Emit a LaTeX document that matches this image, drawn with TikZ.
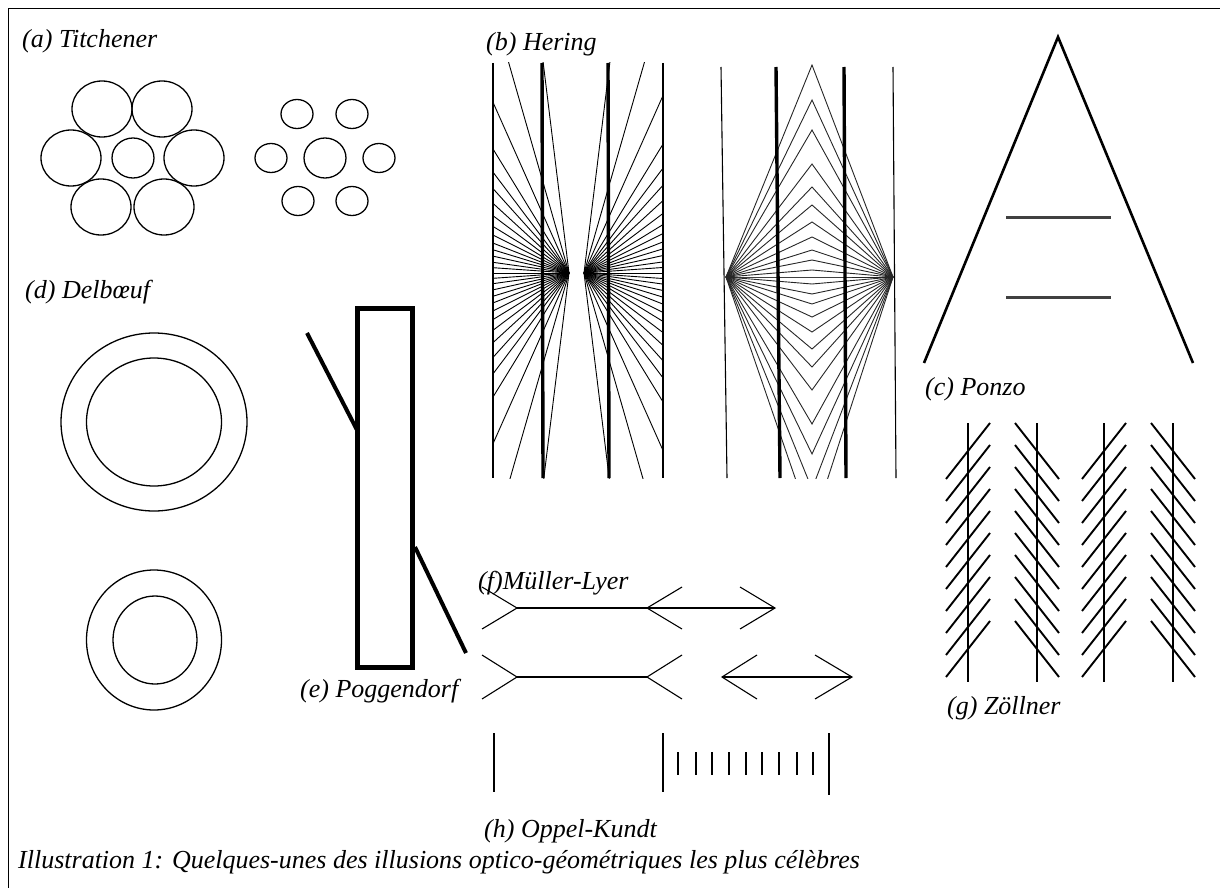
\documentclass[tikz,border=0pt]{standalone}
\usepackage{fontspec}
\newfontfamily\labfont{Liberation Serif}
\begin{document}
\begin{tikzpicture}[x=1pt,y=-1pt,
  lab/.style={anchor=base west,inner sep=0pt,font=\labfont\itshape\fontsize{26}{30}\selectfont},
  ring/.style={draw,line width=1.3pt},
  thinv/.style={line width=1.1pt},
  thickv/.style={line width=3.4pt},
  ray/.style={line width=0.9pt},
  chev/.style={line width=0.9pt,black!85},
  leg/.style={line width=2.6pt},
  bar/.style={line width=3pt,black!75},
  hatch/.style={line width=1.9pt},
  fin/.style={line width=1.1pt},
  tick/.style={line width=1.6pt},
  heavy/.style={line width=5pt},
  oblique/.style={line width=4pt}]
\useasboundingbox (0,0) rectangle (1220,888);

% frame
\draw[line width=1pt] (1220,9) -- (8,9) -- (8,888);

% (a) Titchener
\node[lab] (la) at (22,48) {(a) Titchener};
\draw[ring] (133,158) ellipse [x radius=21,y radius=20];
\foreach \cx/\cy in {102/109,162/109,71/158,194/158,101/207,164/207}
  {\draw[ring] (\cx,\cy) ellipse [x radius=30,y radius=28];}
\draw[ring] (325,158) ellipse [x radius=21,y radius=20];
\foreach \cx/\cy in {297/114,352/114,271/158,379/158,298/201,352/201}
  {\draw[ring] (\cx,\cy) ellipse [x radius=16,y radius=14.5];}

% (b) Hering, radiating version
\node[lab] (lb) at (486,51) {(b) Hering};
\begin{scope}
  \clip (493,63) rectangle (663,478);
  \foreach \a in {0,4,8,12.5,17,21.5,26.5,31.5,37,42.5,48,53,58.5,66,74,83}{
    \draw[ray] (569,273) -- ++(180+\a:320);
    \draw[ray] (569,273) -- ++(180-\a:320);
    \draw[ray] (584,273) -- ++(\a:320);
    \draw[ray] (584,273) -- ++(-\a:320);
  }
\end{scope}
\draw[thinv] (493,63) -- (493,478);
\draw[thinv] (663,63) -- (663,478);
\draw[thickv] (542,63) -- (543,478);
\draw[thickv] (608,63) -- (609,478);

% (b) Hering, chevron version
\begin{scope}
  \clip (700,65) rectangle (920,478);
  \foreach \d in {0,7,17,27,40,55,72,90,113,147,177,212}{
    \draw[chev] (726,277) -- (812,277-\d) -- (893,277);
    \draw[chev] (726,277) -- (812,277+\d) -- (893,277);
  }
  \draw[chev] (726,277) -- (812,527) -- (893,277);
\end{scope}
\draw[thinv] (721,67) -- (727,478);
\draw[thinv] (893,67) -- (896,478);
\draw[thickv] (776,67) -- (780,478);
\draw[thickv] (844,67) -- (846,478);

% (c) Ponzo
\draw[leg,line join=miter] (924,363) -- (1058,37) -- (1193,363);
\draw[bar] (1006,217) -- (1111,217);
\draw[bar] (1006,297) -- (1111,297);
\node[lab] (lc) at (925,395) {(c) Ponzo};

% (d) Delboeuf
\node[lab] (ld) at (25,298) {(d) Delbœuf};
\draw[ring] (154,422) ellipse [x radius=93,y radius=89];
\draw[ring] (154,422) ellipse [x radius=67.5,y radius=64];
\draw[ring] (154,640) ellipse [x radius=67.5,y radius=70];
\draw[ring] (155,640) ellipse [x radius=42,y radius=44];

% (e) Poggendorf
\draw[heavy] (357.5,308) rectangle (412.5,667);
\draw[oblique] (307,333) -- (357,430);
\draw[oblique] (415,547) -- (466,653);
\node[lab] (le) at (300,697) {(e) Poggendorf};

% (f) Mueller-Lyer
\node[lab] (lf) at (478,589) {(f)Müller-Lyer};
\draw[fin] (482,587) -- (517,608) -- (482,629);
\draw[fin] (517,608) -- (775,608);
\draw[fin] (682,587) -- (647,608) -- (682,629);
\draw[fin] (740,587) -- (775,608) -- (740,629);
\draw[fin] (482,655) -- (517,677) -- (482,699);
\draw[fin] (517,677) -- (647,677);
\draw[fin] (682,655) -- (647,677) -- (682,699);
\draw[fin] (757,655) -- (722,677) -- (757,699);
\draw[fin] (722,677) -- (852,677);
\draw[fin] (815,655) -- (852,677) -- (815,699);

% (g) Zoellner
\foreach \xc/\s in {968/1,1037/-1,1104/1,1173/-1}{
  \draw[line width=1.6pt] (\xc,423) -- (\xc,682);
  \foreach \i in {0,...,9}{
    \draw[hatch] (\xc-22,451+22*\i+28*\s) -- (\xc+22,451+22*\i-28*\s);
  }
}
\node[lab] (lg) at (947,714) {(g) Zöllner};

% (h) Oppel-Kundt
\draw[tick] (494,733) -- (494,792);
\draw[line width=2pt] (663,733) -- (663,792);
\draw[line width=2pt] (829,733) -- (829,795);
\foreach \x in {678,696,712,729,746,762,779,797,813}{
  \draw[tick] (\x,752) -- (\x,775);
}
\node[lab] (lh) at (484,837) {(h) Oppel-Kundt};

% caption
\node[lab] (cap) at (18,868) {Illustration 1: Quelques-unes des illusions optico-géométriques les plus célèbres};
\end{tikzpicture}
\end{document}
